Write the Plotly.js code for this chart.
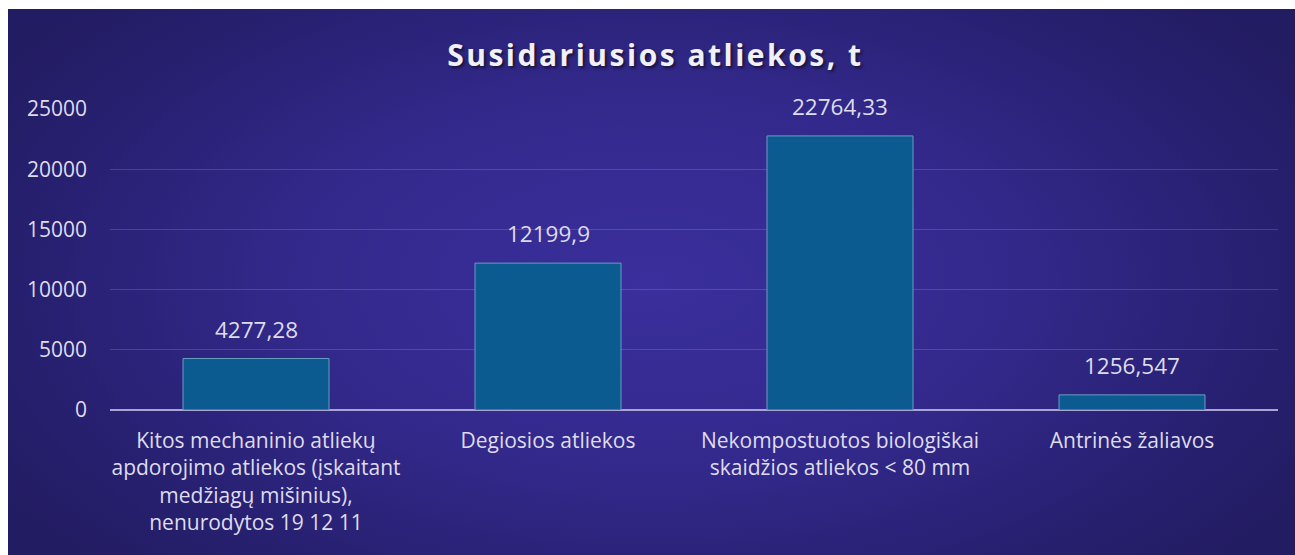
<!DOCTYPE html>
<html>
<head>
<meta charset="utf-8">
<script src="https://cdn.plot.ly/plotly-3.0.1.min.js"></script>
<style>
  html, body { margin: 0; padding: 0; background: #ffffff; width: 1295px; height: 555px; overflow: hidden; }
  #chart {
    position: absolute; left: 8px; top: 9px; width: 1287px; height: 546px;
    background: radial-gradient(ellipse 60% 75% at 50% 50%, #3a2f9c 0%, #33298c 45%, #272070 80%, #221c62 100%);
  }
  #chart .gtitle { letter-spacing: 2.5px; }
</style>
</head>
<body>
<div id="chart"></div>
<script>
const categories = [
  "Kitos mechaninio atliekų<br>apdorojimo atliekos (įskaitant<br>medžiagų mišinius),<br>nenurodytos 19 12 11",
  "Degiosios atliekos",
  "Nekompostuotos biologiškai<br>skaidžios atliekos < 80 mm",
  "Antrinės žaliavos"
];
const values = [4277.28, 12199.9, 22764.33, 1256.547];
const tickValues = [0, 5000, 10000, 15000, 20000, 25000];

const fontFam = "Open Sans, Noto Sans, sans-serif";
const labelText = values.map(v => String(v).replace('.', ','));

const trace = {
  type: 'bar',
  x: categories,
  y: values,
  marker: { color: '#0b5b90', line: { color: '#6a9cc2', width: 1 } },
  hoverinfo: 'none'
};

const annotations = values.map((v, i) => ({
  x: categories[i], y: v, xref: 'x', yref: 'y',
  text: labelText[i], showarrow: false,
  yanchor: 'bottom', yshift: 12,
  font: { family: fontFam, size: 22.5, color: '#dedcec' }
}));

const layout = {
  width: 1287, height: 546,
  paper_bgcolor: 'rgba(0,0,0,0)',
  plot_bgcolor: 'rgba(0,0,0,0)',
  margin: { l: 102, r: 17, t: 100, b: 145 },
  bargap: 0.5,
  showlegend: false,
  title: {
    text: '<b>Susidariusios atliekos, t</b>',
    x: 0.503, xanchor: 'center', xref: 'container',
    y: 1 - 46/546, yanchor: 'middle',
    font: { family: fontFam, size: 30, color: '#f0f0f6', shadow: '2px 2px 3px rgba(0,0,0,0.55)' }
  },
  xaxis: {
    type: 'category',
    showgrid: false,
    showline: false,
    zeroline: false,
    ticks: '',
    ticklabelstandoff: 16,
    tickfont: { family: fontFam, size: 21, color: '#dedcec' }
  },
  yaxis: {
    range: [0, 25000],
    tickvals: tickValues,
    ticktext: tickValues.map(String),
    showgrid: true,
    gridcolor: 'rgba(170,160,230,0.25)',
    gridwidth: 1,
    zeroline: true,
    zerolinecolor: '#a9a4d4',
    zerolinewidth: 2,
    showline: false,
    ticks: '',
    ticklabelstandoff: 22,
    tickfont: { family: fontFam, size: 21, color: '#dedcec' }
  },
  annotations: annotations
};

Plotly.newPlot('chart', [trace], layout, { displayModeBar: false, staticPlot: true });
</script>
</body>
</html>
